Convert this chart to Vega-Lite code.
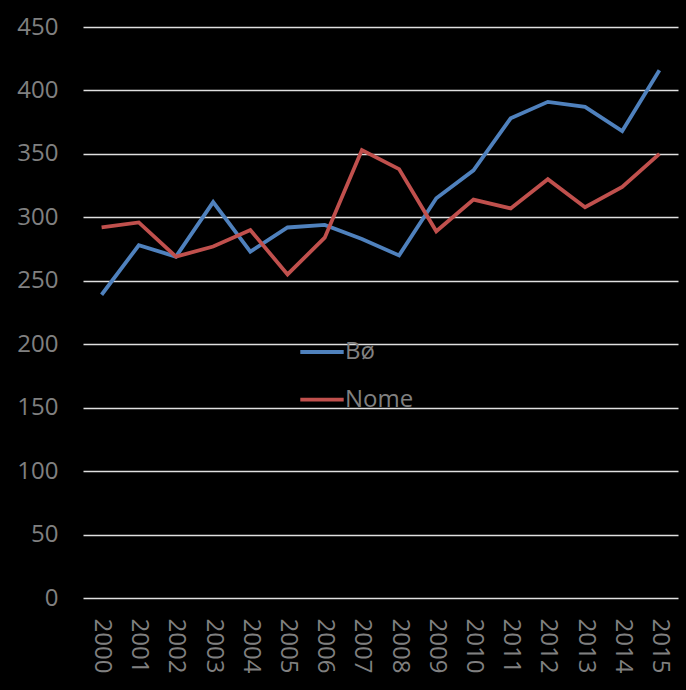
{
  "$schema": "https://vega.github.io/schema/vega-lite/v6.json",
  "width": 595,
  "height": 571,
  "autosize": {"type": "none"},
  "padding": {"left": 83, "top": 27, "right": 8, "bottom": 92},
  "background": "#000000",
  "config": {"view": {"stroke": null}, "font": "Open Sans"},
  "data": {"values": [
    {"year": "2000", "series": "Bø", "value": 239},
    {"year": "2001", "series": "Bø", "value": 278},
    {"year": "2002", "series": "Bø", "value": 269},
    {"year": "2003", "series": "Bø", "value": 312},
    {"year": "2004", "series": "Bø", "value": 273},
    {"year": "2005", "series": "Bø", "value": 292},
    {"year": "2006", "series": "Bø", "value": 294},
    {"year": "2007", "series": "Bø", "value": 283},
    {"year": "2008", "series": "Bø", "value": 270},
    {"year": "2009", "series": "Bø", "value": 315},
    {"year": "2010", "series": "Bø", "value": 337},
    {"year": "2011", "series": "Bø", "value": 378},
    {"year": "2012", "series": "Bø", "value": 391},
    {"year": "2013", "series": "Bø", "value": 387},
    {"year": "2014", "series": "Bø", "value": 368},
    {"year": "2015", "series": "Bø", "value": 416},
    {"year": "2000", "series": "Nome", "value": 292},
    {"year": "2001", "series": "Nome", "value": 296},
    {"year": "2002", "series": "Nome", "value": 269},
    {"year": "2003", "series": "Nome", "value": 277},
    {"year": "2004", "series": "Nome", "value": 290},
    {"year": "2005", "series": "Nome", "value": 255},
    {"year": "2006", "series": "Nome", "value": 284},
    {"year": "2007", "series": "Nome", "value": 353},
    {"year": "2008", "series": "Nome", "value": 338},
    {"year": "2009", "series": "Nome", "value": 289},
    {"year": "2010", "series": "Nome", "value": 314},
    {"year": "2011", "series": "Nome", "value": 307},
    {"year": "2012", "series": "Nome", "value": 330},
    {"year": "2013", "series": "Nome", "value": 308},
    {"year": "2014", "series": "Nome", "value": 324},
    {"year": "2015", "series": "Nome", "value": 350}
  ]},
  "mark": {"type": "line", "strokeWidth": 3.8},
  "encoding": {
    "x": {
      "field": "year", "type": "ordinal",
      "scale": {"type": "point", "padding": 0.5},
      "axis": {"title": null, "labelAngle": 90, "labelFontSize": 24, "labelColor": "#808080", "ticks": false, "domain": false, "grid": false, "labelPadding": 20}
    },
    "y": {
      "field": "value", "type": "quantitative",
      "scale": {"domain": [0, 450], "nice": false},
      "axis": {"title": null, "values": [0, 50, 100, 150, 200, 250, 300, 350, 400, 450], "labelFontSize": 24, "labelColor": "#808080", "ticks": false, "domain": false, "gridColor": "#e0e0e0", "gridWidth": 1.3, "labelPadding": 25}
    },
    "color": {
      "field": "series", "type": "nominal",
      "scale": {"domain": ["Bø", "Nome"], "range": ["#4F81BD", "#C0504D"]},
      "legend": {"orient": "none", "legendX": 215, "legendY": 301, "title": null, "symbolType": "stroke", "symbolSize": 1884, "symbolStrokeWidth": 3.8, "labelFontSize": 24, "labelColor": "#808080", "labelOffset": -1, "rowPadding": 11.6, "padding": 0}
    }
  }
}
